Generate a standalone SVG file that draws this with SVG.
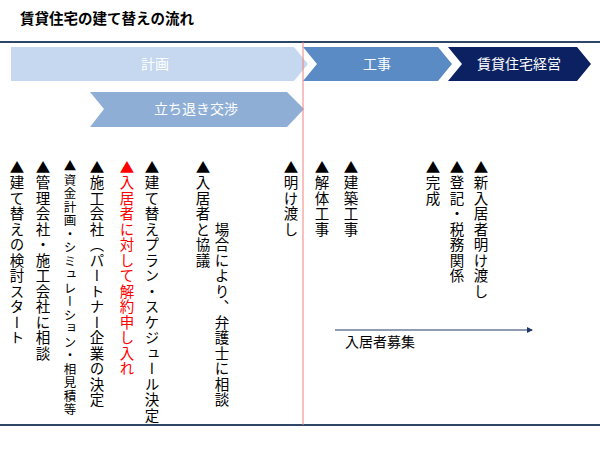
<svg xmlns="http://www.w3.org/2000/svg" width="600" height="450" viewBox="0 0 600 450">
<style>
text{font-family:"Noto Sans CJK JP","Liberation Sans",sans-serif;}
.v{writing-mode:vertical-rl;font-size:14.5px;fill:#000;letter-spacing:1px;font-feature-settings:"vpal" 0,"palt" 0;}
.w{fill:#fff;font-size:14px;text-anchor:middle;}
</style>
<defs><marker id="ah" markerWidth="6" markerHeight="6" refX="5" refY="3" orient="auto"><path d="M0,0 L6,3 L0,6 z" fill="#1F3864"/></marker></defs>
<rect width="600" height="450" fill="#fff"/>
<text x="20" y="24" font-size="14.5" font-weight="bold">賃貸住宅の建て替えの流れ</text>
<line x1="0" y1="42" x2="600" y2="42" stroke="#2F4766" stroke-width="2"/>
<line x1="0" y1="425" x2="600" y2="425" stroke="#2F4766" stroke-width="2"/>
<g id="plan"><polygon points="11,47 294,47 308,64 294,81 11,81" fill="#C5D8EF"/><text class="w" x="155" y="69">計画</text></g>
<g id="koji"><polygon points="303,47 438,47 452,64 438,81 303,81 317,64" fill="#5B8BC5"/><text class="w" x="377" y="69">工事</text></g>
<g id="keiei"><polygon points="448,47 577,47 591,64 577,81 448,81 462,64" fill="#0B2161"/><text class="w" x="519" y="69">賃貸住宅経営</text></g>
<g id="tachinoki"><polygon points="90,92 287,92 304,109 287,127 90,127 104,109" fill="#8EAED6"/><text class="w" x="196" y="114">立ち退き交渉</text></g>
<line x1="303" y1="42" x2="303" y2="425" stroke="#F08080" stroke-width="1"/>
<g id="items">
<text class="v" x="17" y="160">▲建て替えの検討スタート</text>
<text class="v" x="43" y="160">▲管理会社・施工会社に相談</text>
<text class="v" x="70" y="160" style="font-size:12.5px">▲資金計画・シミュレーション・相見積等</text>
<text class="v" x="97" y="160">▲施工会社（パートナー企業の決定</text>
<text class="v" x="127" y="160" style="fill:#FF0000">▲入居者に対して解約申し入れ</text>
<text class="v" x="152" y="160">▲建て替えプラン・スケジュール決定</text>
<text class="v" x="203" y="160">▲入居者と協議</text>
<text class="v" x="222" y="222">場合により、弁護士に相談</text>
<text class="v" x="291" y="160">▲明け渡し</text>
<text class="v" x="322" y="160">▲解体工事</text>
<text class="v" x="351" y="160">▲建築工事</text>
<text class="v" x="433" y="160">▲完成</text>
<text class="v" x="457" y="160">▲登記・税務関係</text>
<text class="v" x="481" y="160">▲新入居者明け渡し</text>
</g>
<g id="connectors"><line x1="335" y1="330" x2="532" y2="330" stroke="#1F3864" stroke-width="1" marker-end="url(#ah)"/></g>
<text x="345" y="347" font-size="14">入居者募集</text>
</svg>
